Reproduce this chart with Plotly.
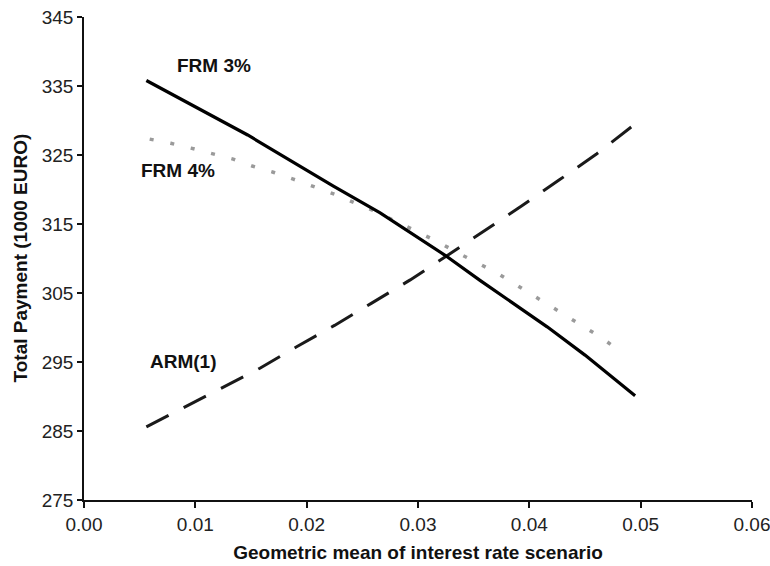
import plotly.graph_objects as go

# FRM 3% (solid black)
frm3_x = [0.0056, 0.0147, 0.0224, 0.0266, 0.0324, 0.0356, 0.0416, 0.0450, 0.0495]
frm3_y = [335.8, 327.9, 320.5, 316.6, 310.5, 306.8, 300.1, 296.0, 290.1]

# FRM 4% (dotted gray)
frm4_x = [0.0059, 0.0078, 0.0096, 0.0114, 0.0134, 0.0151, 0.0170, 0.0188, 0.0206, 0.0227,
          0.0244, 0.0262, 0.0280, 0.0298, 0.0317, 0.0336, 0.0353, 0.0371, 0.0390, 0.0408,
          0.0426, 0.0445, 0.0464, 0.0484]
frm4_y = [327.3, 326.7, 326.0, 325.2, 324.4, 323.4, 322.5, 321.5, 320.4, 319.2,
          318.0, 316.8, 315.4, 314.0, 312.5, 310.8, 309.4, 307.9, 306.0, 304.2,
          302.4, 300.6, 298.6, 296.3]

# ARM(1) (dashed black)
arm_x = [0.0056, 0.0090, 0.0123, 0.0158, 0.0191, 0.0225, 0.0258, 0.0293, 0.0326,
         0.0359, 0.0393, 0.0427, 0.0460, 0.0495]
arm_y = [285.6, 288.4, 291.2, 294.1, 297.2, 300.3, 303.5, 306.9, 310.4,
         313.9, 317.6, 321.4, 325.1, 329.5]

x_ticks = [0.00, 0.01, 0.02, 0.03, 0.04, 0.05, 0.06]
x_tick_labels = ["0.00", "0.01", "0.02", "0.03", "0.04", "0.05", "0.06"]
y_ticks = [275, 285, 295, 305, 315, 325, 335, 345]

labels = [("FRM 3%", 0.0117, 337.9), ("FRM 4%", 0.0084, 322.8), ("ARM(1)", 0.0089, 295.1)]

FONT = "Liberation Sans, Arial, Helvetica, sans-serif"

fig = go.Figure()
fig.add_trace(go.Scatter(x=frm4_x, y=frm4_y, mode="lines",
                         line=dict(color="#9a9a9a", width=3.5, dash="4px,17px"),
                         showlegend=False, name="FRM 4%"))
fig.add_trace(go.Scatter(x=arm_x, y=arm_y, mode="lines",
                         line=dict(color="#1a1a1a", width=3, dash="25px,17px"),
                         showlegend=False, name="ARM(1)"))
fig.add_trace(go.Scatter(x=frm3_x, y=frm3_y, mode="lines",
                         line=dict(color="#000000", width=3.2),
                         showlegend=False, name="FRM 3%"))

for text, x, y in labels:
    fig.add_annotation(x=x, y=y, text="<b>%s</b>" % text, showarrow=False,
                       font=dict(family=FONT, size=19, color="#111111"))

# y-axis title as a rotated annotation placed in the left margin
fig.add_annotation(xref="paper", yref="paper", x=0, y=0.5, xshift=-64,
                   xanchor="center", yanchor="middle", textangle=-90,
                   text="<b>Total Payment (1000 EURO)</b>", showarrow=False,
                   font=dict(family=FONT, size=19, color="#111111"))

fig.update_layout(
    width=770, height=566,
    margin=dict(l=84, r=18, t=17, b=66),
    paper_bgcolor="white", plot_bgcolor="white",
    font=dict(family=FONT, size=19, color="#222222"),
    xaxis=dict(range=[0, 0.06], tickvals=x_ticks, ticktext=x_tick_labels,
               automargin=False, ticklabeloverflow="allow",
               showgrid=False, zeroline=False, showline=True, linecolor="#111111",
               linewidth=1.5, ticks="outside", ticklen=6, tickcolor="#111111",
               tickwidth=1.5, tickfont=dict(size=19),
               title=dict(text="<b>Geometric mean of interest rate scenario</b>",
                          font=dict(size=19, color="#111111"), standoff=12)),
    yaxis=dict(range=[275, 345], tickvals=y_ticks, automargin=False,
               showgrid=False, zeroline=False, showline=True, linecolor="#111111",
               linewidth=1.5, ticks="outside", ticklen=5, tickcolor="#111111",
               tickwidth=1.5, tickfont=dict(size=19)),
)

fig.write_html("out.html", config={"displayModeBar": False},
               post_script="document.body.style.margin='0';document.body.style.overflow='hidden';")
